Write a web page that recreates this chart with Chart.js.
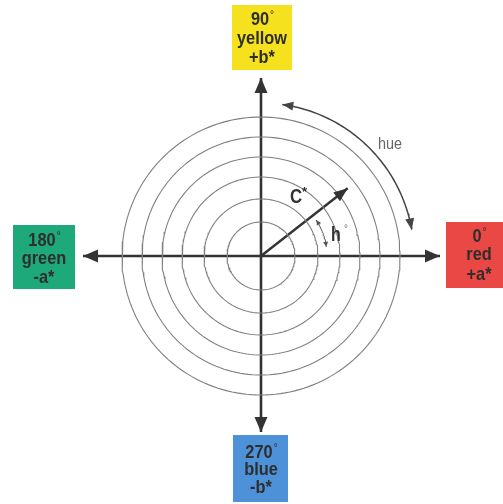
<!DOCTYPE html>
<html>
<head>
<meta charset="utf-8">
<script src="https://cdn.jsdelivr.net/npm/chart.js@4/dist/chart.umd.min.js"></script>
<style>
  html, body { margin: 0; padding: 0; background: #fff; }
  #wrap { width: 503px; height: 504px; position: relative; }
</style>
</head>
<body>
<div id="wrap"><canvas id="lch"></canvas></div>
<script>
// ── Data: CIE L*C*h° diagram ────────────────────────────────────────────
const ringRadii   = [34, 57, 79, 99, 119, 139];          // chroma rings
const axisReach   = [179, 178, 178, 176];                // +a*, +b*, -a*, -b* arrow tips
const hueAngles   = [0, 90, 180, 270];                   // degrees
const hueNames    = ['red', 'yellow', 'green', 'blue'];
const axisNames   = ['+a*', '+b*', '-a*', '-b*'];
const chromaVec   = { angle: 38, length: 110 };          // C* arrow
const hueArc      = { radius: 153, from: 82, to: 10 };   // big "hue" arc
const hArc        = { radius: 66, from: 8, to: 33 };     // small h° arc

// ── Look ───────────────────────────────────────────────────────────────
const dark  = '#333333';
const ring  = '#808080';
const boxes = [
  { fill: '#ea4844', x0: 446, y0: 222, x1: 503, y1: 288, cx: 479, lines: [236, 255, 275] },
  { fill: '#f6e11f', x0: 232, y0: 5,   x1: 292, y1: 70,  cx: 262, lines: [19, 39, 58] },
  { fill: '#1ea97b', x0: 13,  y0: 225, x1: 75,  y1: 289, cx: 44,  lines: [240, 259, 278] },
  { fill: '#4d91d8', x0: 233, y0: 435, x1: 288, y1: 502, cx: 261, lines: [452, 470, 488] }
];
const sans = "'Liberation Sans', Arial, sans-serif";
const squeeze = 0.86;

const rad = d => d * Math.PI / 180;
function arcPoints(r, a0, a1, step) {
  const pts = [];
  const n = Math.max(2, Math.round(Math.abs(a1 - a0) / step));
  for (let i = 0; i <= n; i++) {
    const a = a0 + (a1 - a0) * i / n;
    pts.push({ x: r * Math.cos(rad(a)), y: r * Math.sin(rad(a)) });
  }
  return pts;
}

// narrow text: squeeze a normal face horizontally
function narrowText(ctx, text, x, y, font, sx, align) {
  ctx.save();
  ctx.translate(x, y);
  ctx.scale(sx, 1);
  ctx.font = font;
  ctx.textAlign = align || 'center';
  ctx.fillText(text, 0, 0);
  ctx.restore();
}

const datasets = [];

// Rings
ringRadii.forEach(r => datasets.push({
  data: arcPoints(r, 0, 360, 2), borderColor: ring, borderWidth: 1.1
}));

// Axes (each drawn from the centre out, arrow at the tip)
hueAngles.forEach((a, i) => datasets.push({
  data: [{ x: 0, y: 0 }, { x: axisReach[i] * Math.round(Math.cos(rad(a))), y: axisReach[i] * Math.round(Math.sin(rad(a))) }],
  borderColor: dark, borderWidth: 2.6, arrow: 'end', head: [15, 6.5]
}));

// C* vector
datasets.push({
  data: [{ x: 0, y: 0 }, { x: chromaVec.length * Math.cos(rad(chromaVec.angle)), y: chromaVec.length * Math.sin(rad(chromaVec.angle)) }],
  borderColor: dark, borderWidth: 2.4, arrow: 'end', head: [14, 5.5]
});

// hue arc
datasets.push({
  data: arcPoints(hueArc.radius, hueArc.from, hueArc.to, 1),
  borderColor: '#444', borderWidth: 1.5, arrow: 'both', head: [11, 4.5]
});

// h° arc
datasets.push({
  data: arcPoints(hArc.radius, hArc.from, hArc.to, 1),
  borderColor: '#555', borderWidth: 1, arrow: 'both', head: [5, 2.5]
});

// Arrow heads at line ends
const arrowHeads = {
  id: 'arrowHeads',
  afterDatasetsDraw(chart) {
    const ctx = chart.ctx;
    chart.data.datasets.forEach((ds, i) => {
      if (!ds.arrow) return;
      const pts = chart.getDatasetMeta(i).data;
      const ends = [[pts[pts.length - 1], pts[pts.length - 2]]];
      if (ds.arrow === 'both') ends.push([pts[0], pts[1]]);
      ends.forEach(([tip, prev]) => {
        const ang = Math.atan2(tip.y - prev.y, tip.x - prev.x);
        const [L, W] = ds.head;
        const bx = tip.x - L * Math.cos(ang), by = tip.y - L * Math.sin(ang);
        ctx.save();
        ctx.fillStyle = ds.borderColor;
        ctx.beginPath();
        ctx.moveTo(tip.x, tip.y);
        ctx.lineTo(bx + W * Math.sin(ang), by - W * Math.cos(ang));
        ctx.lineTo(bx - W * Math.sin(ang), by + W * Math.cos(ang));
        ctx.closePath();
        ctx.fill();
        ctx.restore();
      });
    });
  }
};

// Colour boxes and labels
const labels = {
  id: 'labels',
  afterDraw(chart) {
    const ctx = chart.ctx;
    ctx.save();
    ctx.textBaseline = 'middle';
    boxes.forEach((b, i) => {
      ctx.fillStyle = b.fill;
      ctx.fillRect(b.x0, b.y0, b.x1 - b.x0, b.y1 - b.y0);
      ctx.fillStyle = '#2e2e2e';
      const f = 'bold 19px ' + sans;
      // number with a small raised degree ring
      const num = String(hueAngles[i]);
      ctx.font = f;
      const w = ctx.measureText(num).width * squeeze;
      narrowText(ctx, num, b.cx - 2, b.lines[0] + 1, f, squeeze);
      narrowText(ctx, '°', b.cx - 2 + w / 2 + 1, b.lines[0] - 4, '10px ' + sans, 1, 'left');
      narrowText(ctx, hueNames[i], b.cx, b.lines[1], f, squeeze);
      narrowText(ctx, axisNames[i], b.cx, b.lines[2], f, squeeze);
    });
    ctx.fillStyle = dark;
    ctx.textBaseline = 'alphabetic';
    narrowText(ctx, 'C', 290, 203, 'bold 21px ' + sans, 0.8, 'left');
    narrowText(ctx, '*', 302, 196, 'bold 13px ' + sans, 1, 'left');
    narrowText(ctx, 'h', 331, 241, 'bold 20px ' + sans, 0.8, 'left');
    ctx.fillStyle = '#777';
    narrowText(ctx, '°', 344, 232, '10px ' + sans, 1, 'left');
    ctx.fillStyle = '#666';
    narrowText(ctx, 'hue', 378, 149, '16px ' + sans, 0.9, 'left');
    ctx.restore();
  }
};

new Chart(document.getElementById('lch'), {
  type: 'scatter',
  data: { datasets },
  options: {
    responsive: true,
    maintainAspectRatio: false,
    animation: false,
    layout: { padding: 0 },
    elements: { point: { radius: 0, hoverRadius: 0 }, line: { tension: 0 } },
    datasets: { scatter: { showLine: true, fill: false } },
    plugins: { legend: { display: false }, tooltip: { enabled: false } },
    scales: {
      x: { type: 'linear', min: -261, max: 242, display: false },
      y: { type: 'linear', min: -248, max: 256, display: false }
    }
  },
  plugins: [arrowHeads, labels]
});
</script>
</body>
</html>
